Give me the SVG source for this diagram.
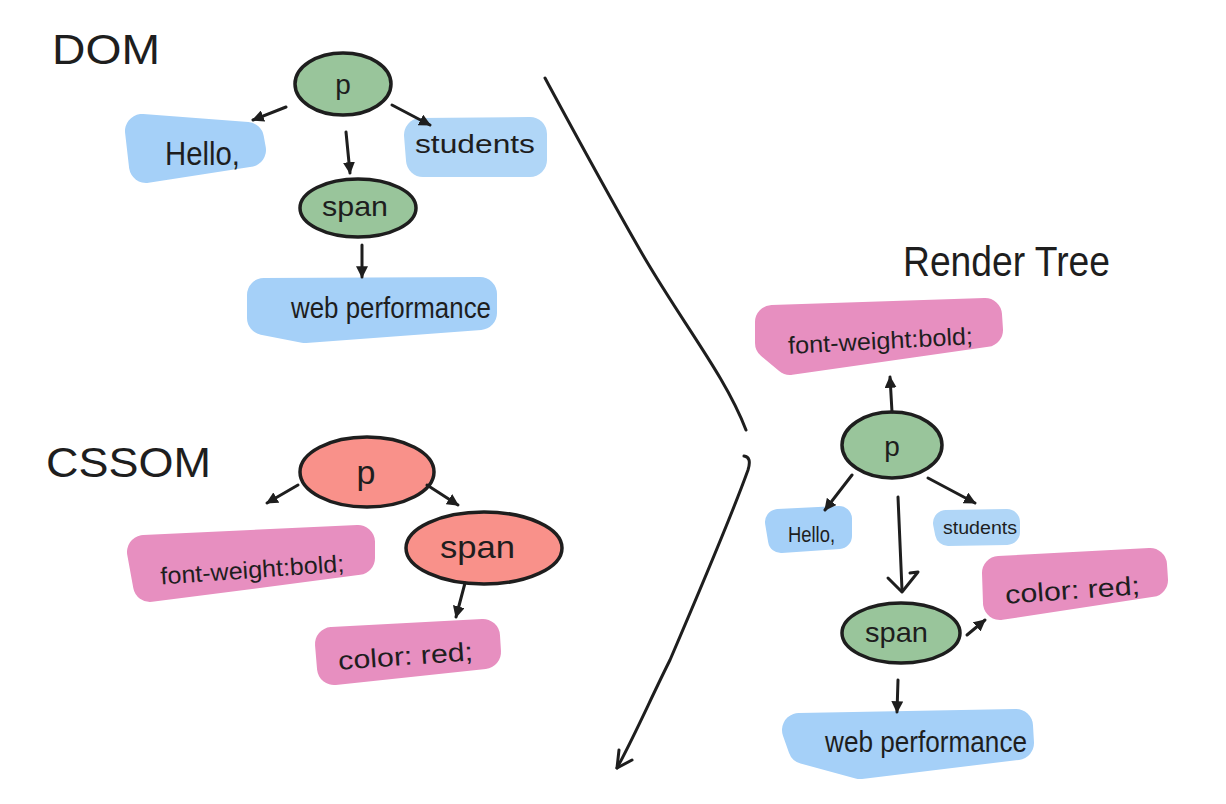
<svg xmlns="http://www.w3.org/2000/svg" width="1226" height="804" viewBox="0 0 1226 804">
<defs>
<style>
.t{font-family:"Liberation Sans","DejaVu Sans",sans-serif;fill:#1e1e1e}
.title{font-size:42px}
.lbl{font-size:28px}
.green{fill:#99c59b;stroke:#1e1e1e;stroke-width:3.5}
.red{fill:#f9918a;stroke:#1e1e1e;stroke-width:3.5}
.blue{fill:#a5d0f8;stroke:#a5d0f8;stroke-linejoin:round;stroke-width:34}
.blue2{fill:#b0d6f7;stroke:#b0d6f7;stroke-linejoin:round;stroke-width:34}
.pink{fill:#e78fc0;stroke:#e78fc0;stroke-linejoin:round;stroke-width:34}
.ln{fill:none;stroke:#1e1e1e;stroke-width:3;stroke-linecap:round;stroke-linejoin:round}
</style>
<marker id="ah" viewBox="0 0 10 10" refX="9" refY="5" markerWidth="12" markerHeight="12" markerUnits="userSpaceOnUse" orient="auto">
<path d="M0,0 L10,5 L0,10 z" fill="#1e1e1e"/>
</marker>
</defs>
<rect width="1226" height="804" fill="#ffffff"/>

<!-- titles -->
<text class="t title" x="52" y="64" textLength="108" lengthAdjust="spacingAndGlyphs">DOM</text>
<text class="t title" x="46" y="477" font-size="48" textLength="165" lengthAdjust="spacingAndGlyphs">CSSOM</text>
<text class="t title" x="903" y="276" textLength="207" lengthAdjust="spacingAndGlyphs">Render Tree</text>

<!-- DOM -->
<g id="dom-p"><ellipse class="green" cx="343" cy="84" rx="48" ry="31"/><text class="t lbl" x="343" y="94" text-anchor="middle">p</text></g>
<g id="dom-hello"><path class="blue" d="M142,131 L247,139 L249,150 L146,166 Z"/><text class="t" font-size="34" x="165" y="165" textLength="75" lengthAdjust="spacingAndGlyphs">Hello,</text></g>
<g id="dom-students"><path class="blue2" d="M421,135 L530,134 L530,160 L423,160 Z"/><text class="t" font-size="26" x="415" y="153" textLength="120" lengthAdjust="spacingAndGlyphs">students</text></g>
<g id="dom-span"><ellipse class="green" cx="358" cy="208" rx="58" ry="29"/><text class="t lbl" x="322" y="216" textLength="66" lengthAdjust="spacingAndGlyphs">span</text></g>
<g id="dom-web"><path class="blue" d="M264,295 L480,294 L480,313 L305,326 L264,318 Z"/><text class="t" font-size="30" x="291" y="318" textLength="200" lengthAdjust="spacingAndGlyphs">web performance</text></g>

<!-- CSSOM -->
<g id="css-p"><ellipse class="red" cx="367" cy="472" rx="67" ry="35"/><text class="t" font-size="34" x="366" y="484" text-anchor="middle">p</text></g>
<g id="css-span"><ellipse class="red" cx="484" cy="548" rx="78" ry="36"/><text class="t" font-size="32" x="440" y="558" textLength="75" lengthAdjust="spacingAndGlyphs">span</text></g>
<g id="css-fw"><path class="pink" d="M144,552 L358,542 L358,558 L150,585 Z"/><text class="t" font-size="24" x="160" y="578" textLength="184" lengthAdjust="spacingAndGlyphs" transform="rotate(-4 252 566)">font-weight:bold;</text></g>
<g id="css-color"><path class="pink" d="M332,644 L483,636 L484,652 L334,668 Z"/><text class="t" font-size="26" x="338" y="665" textLength="135" lengthAdjust="spacingAndGlyphs" transform="rotate(-4 405 655)">color: red;</text></g>

<!-- Render Tree -->
<g id="rt-fw"><path class="pink" d="M772,322 L985,315 L986,330 L790,358 L772,343 Z"/><text class="t" font-size="24" x="788" y="349" textLength="185" lengthAdjust="spacingAndGlyphs" transform="rotate(-3 880 340)">font-weight:bold;</text></g>
<g id="rt-p"><ellipse class="green" cx="892" cy="445" rx="50" ry="33"/><text class="t lbl" x="892" y="456" text-anchor="middle">p</text></g>
<g id="rt-hello"><path class="blue" d="M778,522 L839,519 L839,536 L781,540 Z" style="stroke-width:26"/><text class="t" font-size="22" x="788" y="542" textLength="47" lengthAdjust="spacingAndGlyphs">Hello,</text></g>
<g id="rt-students"><path class="blue2" d="M946,523 L1007,522 L1007,532 L948,533 Z" style="stroke-width:26"/><text class="t" font-size="18" x="943" y="534" textLength="74" lengthAdjust="spacingAndGlyphs">students</text></g>
<g id="rt-span"><ellipse class="green" cx="901" cy="633" rx="59" ry="30"/><text class="t lbl" x="865" y="642" textLength="63" lengthAdjust="spacingAndGlyphs">span</text></g>
<g id="rt-color"><path class="pink" d="M999,573 L1150,565 L1151,580 L1000,603 Z"/><text class="t" font-size="26" x="1005" y="599" textLength="135" lengthAdjust="spacingAndGlyphs" transform="rotate(-4 1072 590)">color: red;</text></g>
<g id="rt-web"><path class="blue" d="M799,730 L1016,726 L1017,743 L860,762 L805,747 Z"/><text class="t" font-size="30" x="825" y="752" textLength="202" lengthAdjust="spacingAndGlyphs">web performance</text></g>

<!-- connectors -->
<g id="connectors">
<path class="ln" d="M286,107 L253,120" marker-end="url(#ah)"/>
<path class="ln" d="M346,132 L350,173" marker-end="url(#ah)"/>
<path class="ln" d="M392,105 L430,125" marker-end="url(#ah)"/>
<path class="ln" d="M362,245 L362,277" marker-end="url(#ah)"/>
<path class="ln" d="M298,485 L267,503" marker-end="url(#ah)"/>
<path class="ln" d="M427,485 L458,505" marker-end="url(#ah)"/>
<path class="ln" d="M465,583 L456,617" marker-end="url(#ah)"/>
<path class="ln" d="M892,412 L890,377" marker-end="url(#ah)"/>
<path class="ln" d="M852,475 L825,510" marker-end="url(#ah)"/>
<path class="ln" d="M928,478 L975,503" marker-end="url(#ah)"/>
<path class="ln" d="M898,497 L902,590"/>
<path class="ln" d="M888,578 L902,592 L918,572 L910,573"/>
<path class="ln" d="M967,635 L985,620" marker-end="url(#ah)"/>
<path class="ln" d="M898,680 L897,712" marker-end="url(#ah)"/>
<path class="ln" d="M545,78 C565,115 600,180 640,250 S725,375 746,430"/>
<path class="ln" d="M744,456 Q752,457 748,470 C730,520 700,590 670,660 C650,700 635,735 617,768"/>
<path class="ln" d="M619,750 L617,768 L632,760"/>
</g>
</svg>
